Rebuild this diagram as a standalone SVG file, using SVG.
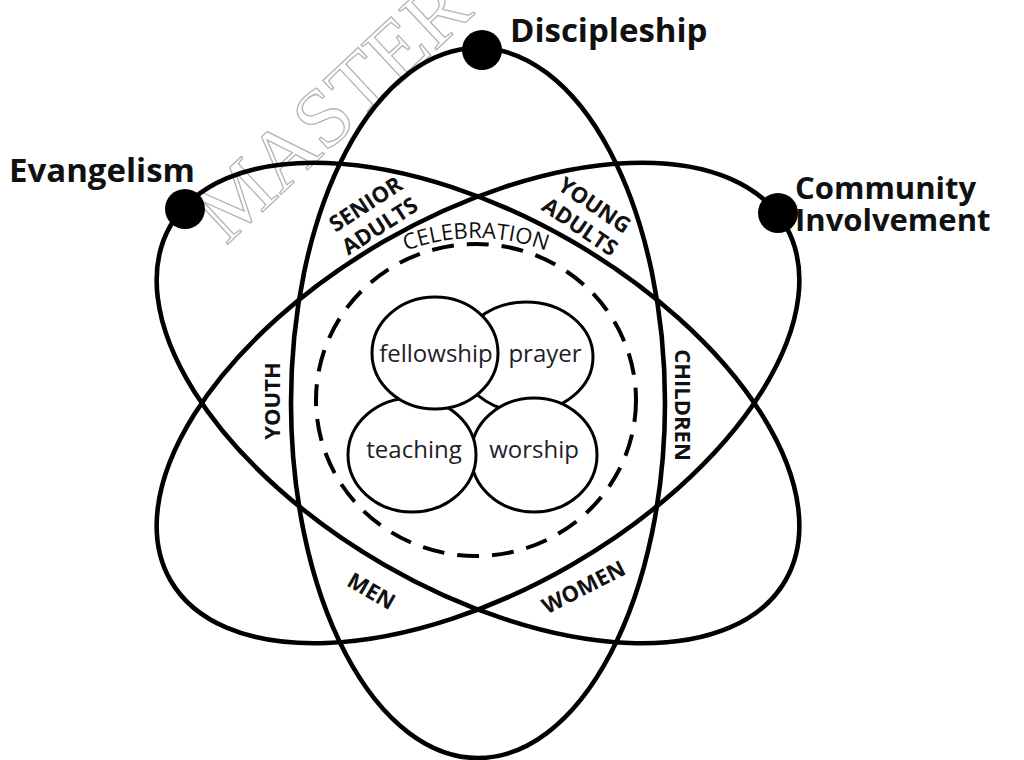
<svg xmlns="http://www.w3.org/2000/svg" width="1024" height="760" viewBox="0 0 1024 760">
<defs>
<style>
.orbit{fill:none;stroke:#000;stroke-width:4.6}
.dash{fill:none;stroke:#000;stroke-width:4;stroke-dasharray:22 13}
.bub{fill:#fff;stroke:#000;stroke-width:3}
.dot{fill:#000}
.big{font-family:"Open Sans","Liberation Sans",sans-serif;font-weight:700;font-size:33px;fill:#111}
.big2{font-family:"Open Sans","Liberation Sans",sans-serif;font-weight:700;font-size:31px;fill:#111}
.band{font-family:"Open Sans","Liberation Sans",sans-serif;font-weight:700;font-size:22px;fill:#111;text-anchor:middle;dominant-baseline:central}
.bubt{font-family:"Open Sans","Liberation Sans",sans-serif;font-size:24px;fill:#1e1e28;text-anchor:middle}
.cel{font-family:"Open Sans","Liberation Sans",sans-serif;font-size:22px;fill:#111}
.wm{font-family:"Liberation Serif",serif;font-size:84px;fill:#fff;stroke:#b4b4b4;stroke-width:1.3}
</style>
<path id="celArc" d="M276,438 A200,200 0 0 1 676,438"/>
</defs>
<rect width="1024" height="760" fill="#fff"/>
<text class="wm" transform="translate(226,246) rotate(-43)">MASTER</text>

<g id="orbit-evangelism">
<ellipse class="orbit" cx="478" cy="403" rx="355" ry="187" transform="rotate(30 478 403)"/>
</g>
<g id="orbit-community">
<ellipse class="orbit" cx="478" cy="403" rx="355" ry="187" transform="rotate(-30 478 403)"/>
</g>
<g id="orbit-discipleship">
<ellipse class="orbit" cx="478" cy="403" rx="187" ry="355"/>
</g>

<g id="celebration">
<ellipse class="dash" cx="476" cy="400" rx="160" ry="156"/>
<text class="cel"><textPath href="#celArc" startOffset="50%" text-anchor="middle">CELEBRATION</textPath></text>
</g>

<g id="prayer">
<ellipse class="bub" cx="526" cy="357" rx="67" ry="55"/>
<text class="bubt" x="545" y="362">prayer</text>
</g>
<g id="worship">
<ellipse class="bub" cx="534" cy="455" rx="63" ry="57"/>
<text class="bubt" x="534" y="458">worship</text>
</g>
<g id="teaching">
<ellipse class="bub" cx="412" cy="455" rx="64" ry="57"/>
<text class="bubt" x="414" y="458">teaching</text>
</g>
<g id="fellowship">
<ellipse class="bub" cx="435" cy="353" rx="63" ry="56"/>
<text class="bubt" x="436" y="362">fellowship</text>
</g>

<g id="band-labels">
<g id="senior-adults" transform="translate(372,214) rotate(-33)">
<text class="band" x="0" y="-13">SENIOR</text>
<text class="band" x="0" y="13">ADULTS</text>
</g>
<g id="young-adults" transform="translate(588,215) rotate(34)">
<text class="band" x="0" y="-13">YOUNG</text>
<text class="band" x="0" y="13">ADULTS</text>
</g>
<g id="youth"><text class="band" transform="translate(271,401) rotate(-90)">YOUTH</text></g>
<g id="children"><text class="band" transform="translate(684,405) rotate(90)">CHILDREN</text></g>
<g id="men"><text class="band" transform="translate(372,590) rotate(30)">MEN</text></g>
<g id="women"><text class="band" transform="translate(583,586) rotate(-27)">WOMEN</text></g>
</g>

<g id="evangelism">
<circle class="dot" cx="185" cy="209" r="20"/>
<text class="big" x="9" y="182">Evangelism</text>
</g>
<g id="discipleship">
<circle class="dot" cx="482" cy="50" r="20"/>
<text class="big" x="510" y="42">Discipleship</text>
</g>
<g id="community-involvement">
<circle class="dot" cx="778" cy="213" r="20"/>
<text class="big2" x="795" y="199">Community</text>
<text class="big2" x="795" y="231">Involvement</text>
</g>
<g id="connectors"/>
</svg>
